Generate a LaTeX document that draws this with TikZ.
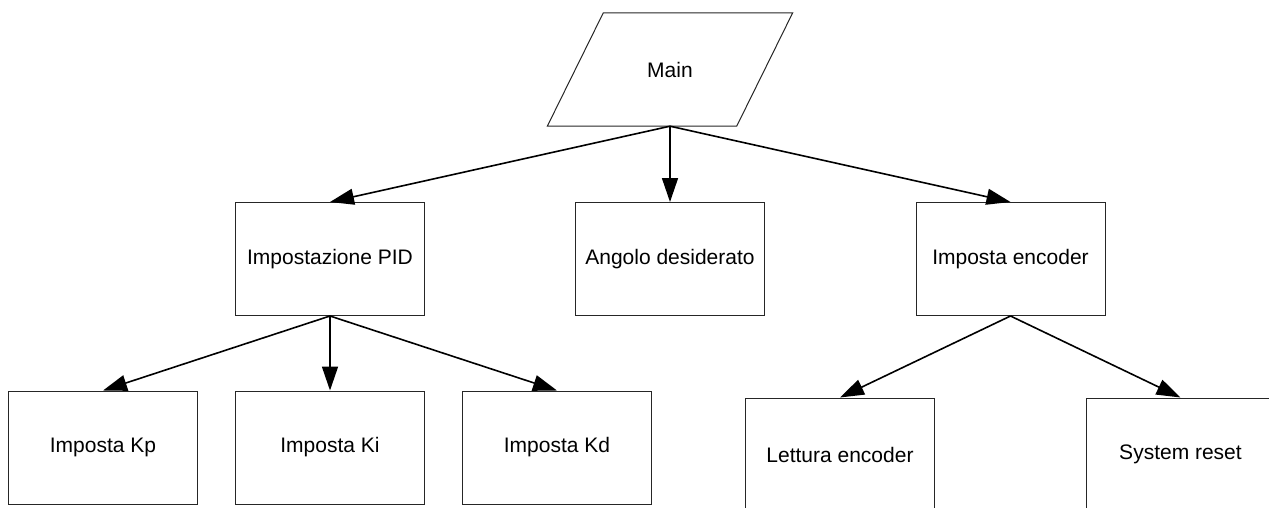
\documentclass[tikz,border=0pt]{standalone}
\usepackage{fontspec}
\setmainfont{Liberation Sans}
\usetikzlibrary{arrows.meta}
\begin{document}
\begin{tikzpicture}[x=1pt,y=-1pt,
  box/.style={draw=black!85,line width=1pt,rectangle,minimum width=189pt,minimum height=113pt,inner sep=0pt,font=\fontsize{21}{25}\selectfont},
  blank/.style={rectangle,minimum width=189pt,minimum height=113pt,inner sep=0pt,font=\fontsize{21}{25}\selectfont},
  conn/.style={line width=1.6pt,-{Triangle[length=24pt,width=16pt]}}]
\useasboundingbox (0,0) rectangle (1269,508);
\clip (0,0) rectangle (1269,508);
\node[blank] (main) at (670,69.5) {Main};
\draw[black!85,line width=1pt] ([xshift=28pt]main.north west) -- ([xshift=28pt]main.north east) -- ([xshift=-28pt]main.south east) -- ([xshift=-28pt]main.south west) -- cycle;
\node[box] (pid) at (330,259) {Impostazione PID};
\node[box] (ang) at (670,259) {Angolo desiderato};
\node[box] (enc) at (1010.5,259) {Imposta encoder};
\node[box] (kp) at (103,447.5) {Imposta Kp};
\node[box] (ki) at (330,447.5) {Imposta Ki};
\node[box] (kd) at (557,447.5) {Imposta Kd};
\node[box] (let) at (840,454.5) {Lettura encoder};
\node[box] (rst) at (1180.5,454.5) {System reset};
\draw[conn] (main.south) -- (pid.north);
\draw[conn] (main.south) -- (ang.north);
\draw[conn] (main.south) -- (enc.north);
\draw[conn] (pid.south) -- (kp.north);
\draw[conn] (pid.south) -- (ki.north);
\draw[conn] (pid.south) -- (kd.north);
\draw[conn] (enc.south) -- (let.north);
\draw[conn] (enc.south) -- (rst.north);
\end{tikzpicture}
\end{document}
